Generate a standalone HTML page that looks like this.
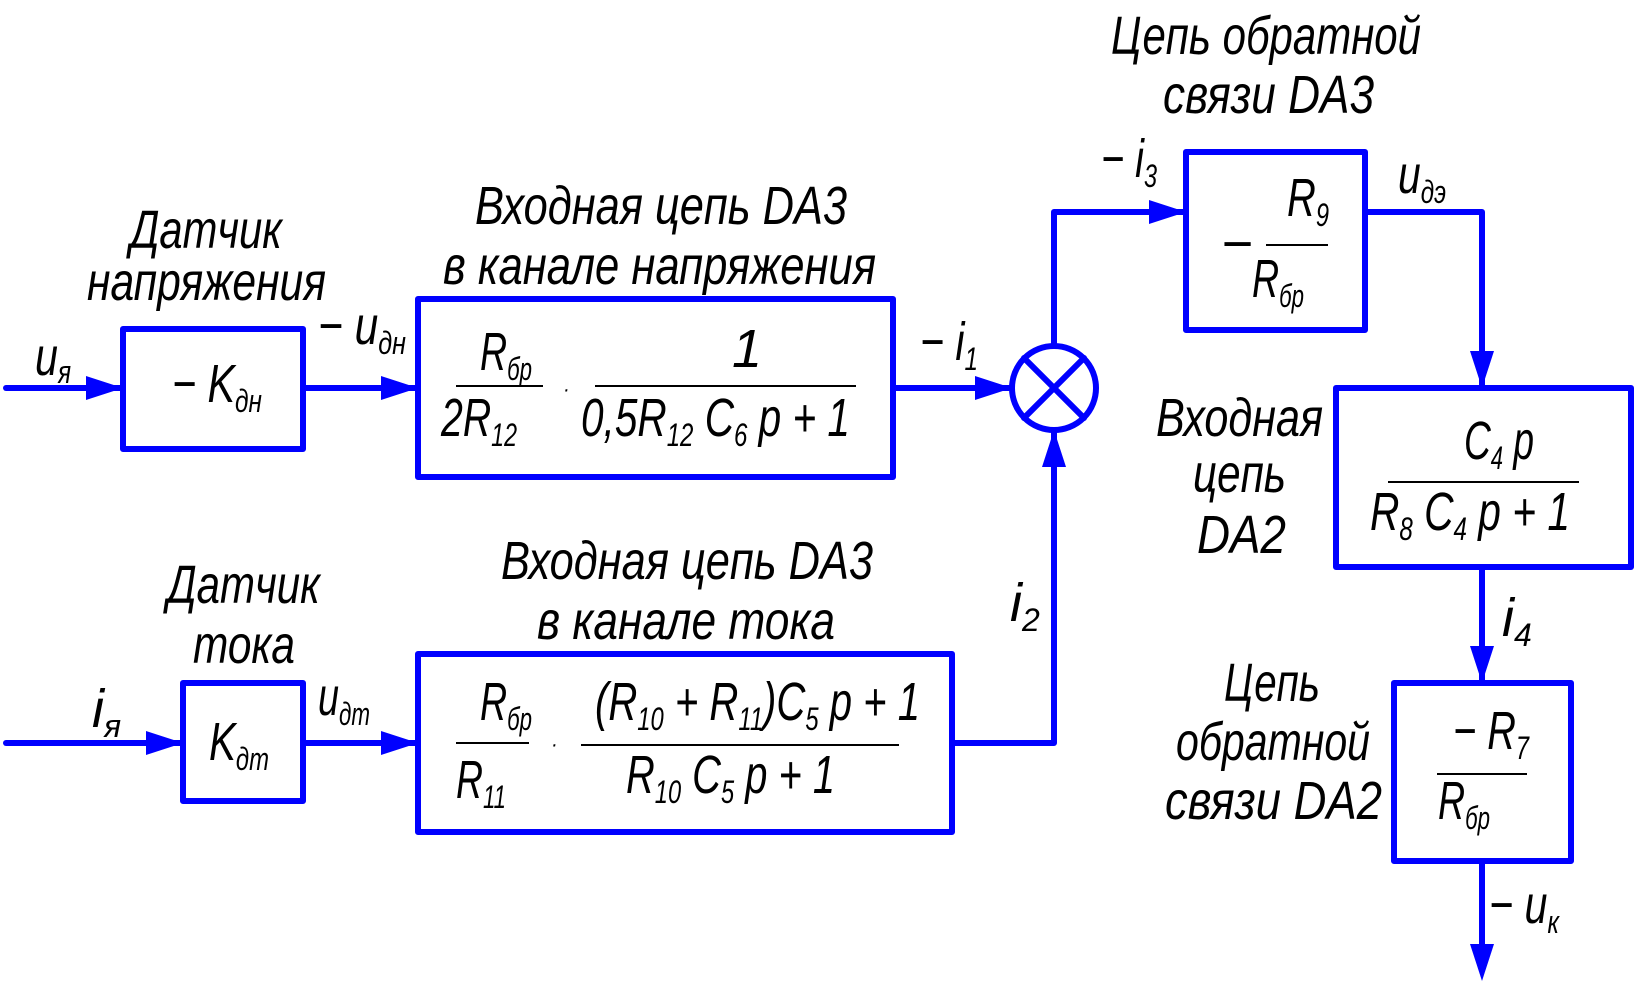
<!DOCTYPE html>
<html><head><meta charset="utf-8"><style>
html,body{margin:0;padding:0;background:#fff;}
svg{display:block;}
text{font-family:"Liberation Sans Narrow","Liberation Sans",sans-serif;font-style:italic;fill:#000;}
</style></head><body>
<svg width="1636" height="985" viewBox="0 0 1636 985" xmlns="http://www.w3.org/2000/svg">
<g stroke="#0000ff" stroke-width="6" fill="none" stroke-linejoin="round" stroke-linecap="round">
<rect x="123" y="329" width="180" height="120"/>
<rect x="418" y="299" width="475" height="178"/>
<rect x="1186" y="152" width="179" height="178"/>
<rect x="1336" y="388" width="295" height="179"/>
<rect x="1394" y="683" width="177" height="178"/>
<rect x="183" y="683" width="120" height="118"/>
<rect x="418" y="654" width="534" height="178"/>
<circle cx="1054" cy="388" r="42"/>
<line x1="1024" y1="358" x2="1084" y2="418"/>
<line x1="1084" y1="358" x2="1024" y2="418"/>
<line x1="6" y1="388" x2="123" y2="388"/>
<line x1="303" y1="388" x2="418" y2="388"/>
<line x1="893" y1="388" x2="1012" y2="388"/>
<polyline points="1054,346 1054,212 1186,212"/>
<polyline points="1365,212 1482,212 1482,388"/>
<line x1="1482" y1="567" x2="1482" y2="683"/>
<line x1="1482" y1="861" x2="1482" y2="960"/>
<line x1="6" y1="743" x2="183" y2="743"/>
<line x1="303" y1="743" x2="418" y2="743"/>
<polyline points="952,743 1054,743 1054,430"/>
</g>
<g fill="#0000ff">
<polygon points="86,376 123,388 86,400"/>
<polygon points="381,376 418,388 381,400"/>
<polygon points="975,376 1012,388 975,400"/>
<polygon points="1149,200 1186,212 1149,224"/>
<polygon points="1470,351 1482,388 1494,351"/>
<polygon points="1470,646 1482,683 1494,646"/>
<polygon points="1470,944 1482,981 1494,944"/>
<polygon points="146,731 183,743 146,755"/>
<polygon points="381,731 418,743 381,755"/>
<polygon points="1042,467 1054,430 1066,467"/>
</g>
<g stroke="#000" stroke-width="2">
<line x1="456" y1="386" x2="543" y2="386"/>
<line x1="595" y1="386" x2="856" y2="386"/>
<line x1="1266" y1="245" x2="1328" y2="245"/>
<line x1="1388" y1="482" x2="1579" y2="482"/>
<line x1="1437" y1="774" x2="1527" y2="774"/>
<line x1="456" y1="743" x2="529" y2="743"/>
<line x1="581" y1="745" x2="899" y2="745"/>
</g>
<g font-size="54">
<text x="130" y="248" textLength="152" lengthAdjust="spacingAndGlyphs">Датчик</text>
<text x="87" y="300" textLength="239" lengthAdjust="spacingAndGlyphs">напряжения</text>
<text x="475" y="224" textLength="372" lengthAdjust="spacingAndGlyphs">Входная цепь DA3</text>
<text x="443" y="284" textLength="433" lengthAdjust="spacingAndGlyphs">в канале напряжения</text>
<text x="1111" y="54" textLength="310" lengthAdjust="spacingAndGlyphs">Цепь обратной</text>
<text x="1163" y="113" textLength="211" lengthAdjust="spacingAndGlyphs">связи DA3</text>
<text x="1156" y="436" textLength="167" lengthAdjust="spacingAndGlyphs">Входная</text>
<text x="1193" y="492" textLength="93" lengthAdjust="spacingAndGlyphs">цепь</text>
<text x="1197" y="553" textLength="89" lengthAdjust="spacingAndGlyphs">DA2</text>
<text x="1224" y="701" textLength="96" lengthAdjust="spacingAndGlyphs">Цепь</text>
<text x="1176" y="760" textLength="194" lengthAdjust="spacingAndGlyphs">обратной</text>
<text x="1165" y="819" textLength="217" lengthAdjust="spacingAndGlyphs">связи DA2</text>
<text x="167" y="603" textLength="153" lengthAdjust="spacingAndGlyphs">Датчик</text>
<text x="193" y="663" textLength="102" lengthAdjust="spacingAndGlyphs">тока</text>
<text x="501" y="579" textLength="372" lengthAdjust="spacingAndGlyphs">Входная цепь DA3</text>
<text x="537" y="639" textLength="298" lengthAdjust="spacingAndGlyphs">в канале тока</text>

<text x="35" y="375" textLength="36" lengthAdjust="spacingAndGlyphs">u<tspan font-size="32" dy="8">я</tspan></text>
<text x="172" y="402" textLength="90" lengthAdjust="spacingAndGlyphs">− K<tspan font-size="32" dy="10">дн</tspan></text>
<text x="318" y="344" textLength="88" lengthAdjust="spacingAndGlyphs">− u<tspan font-size="32" dy="10">дн</tspan></text>
<text x="480" y="370" textLength="52" lengthAdjust="spacingAndGlyphs">R<tspan font-size="32" dy="10">бр</tspan></text>
<text x="441" y="436" textLength="76" lengthAdjust="spacingAndGlyphs">2R<tspan font-size="32" dy="10">12</tspan></text>
<text x="563" y="396" font-size="20">·</text>
<text x="732" y="367">1</text>
<text x="581" y="436" textLength="269" lengthAdjust="spacingAndGlyphs">0,5R<tspan font-size="32" dy="10">12</tspan><tspan dy="-10"> C</tspan><tspan font-size="32" dy="10">6</tspan><tspan dy="-10"> p + 1</tspan></text>
<text x="920" y="360" textLength="58" lengthAdjust="spacingAndGlyphs">− i<tspan font-size="32" dy="10">1</tspan></text>
<text x="1101" y="177" textLength="56" lengthAdjust="spacingAndGlyphs">− i<tspan font-size="32" dy="10">3</tspan></text>
<text x="1287" y="216" textLength="42" lengthAdjust="spacingAndGlyphs">R<tspan font-size="32" dy="10">9</tspan></text>
<text x="1221" y="262">−</text>
<text x="1252" y="297" textLength="52" lengthAdjust="spacingAndGlyphs">R<tspan font-size="32" dy="10">бр</tspan></text>
<text x="1398" y="193" textLength="48" lengthAdjust="spacingAndGlyphs">u<tspan font-size="32" dy="10">дэ</tspan></text>
<text x="1464" y="459" textLength="70" lengthAdjust="spacingAndGlyphs">C<tspan font-size="32" dy="10">4</tspan><tspan dy="-10"> p</tspan></text>
<text x="1370" y="530" textLength="200" lengthAdjust="spacingAndGlyphs">R<tspan font-size="32" dy="10">8</tspan><tspan dy="-10"> C</tspan><tspan font-size="32" dy="10">4</tspan><tspan dy="-10"> p + 1</tspan></text>
<text x="1502" y="636">i<tspan font-size="32" dy="10">4</tspan></text>
<text x="1453" y="749" textLength="76" lengthAdjust="spacingAndGlyphs">− R<tspan font-size="32" dy="10">7</tspan></text>
<text x="1438" y="819" textLength="52" lengthAdjust="spacingAndGlyphs">R<tspan font-size="32" dy="10">бр</tspan></text>
<text x="1489" y="923" textLength="70" lengthAdjust="spacingAndGlyphs">− u<tspan font-size="32" dy="10">к</tspan></text>
<text x="1010" y="621">i<tspan font-size="32" dy="10">2</tspan></text>
<text x="92" y="727">i<tspan font-size="32" dy="10">я</tspan></text>
<text x="209" y="760" textLength="60" lengthAdjust="spacingAndGlyphs">K<tspan font-size="32" dy="10">дт</tspan></text>
<text x="318" y="715" textLength="52" lengthAdjust="spacingAndGlyphs">u<tspan font-size="32" dy="10">дт</tspan></text>
<text x="480" y="720" textLength="52" lengthAdjust="spacingAndGlyphs">R<tspan font-size="32" dy="10">бр</tspan></text>
<text x="456" y="798" textLength="50" lengthAdjust="spacingAndGlyphs">R<tspan font-size="32" dy="10">11</tspan></text>
<text x="551" y="751" font-size="20">·</text>
<text x="595" y="720" textLength="325" lengthAdjust="spacingAndGlyphs">(R<tspan font-size="32" dy="10">10</tspan><tspan dy="-10"> + R</tspan><tspan font-size="32" dy="10">11</tspan><tspan dy="-10">)C</tspan><tspan font-size="32" dy="10">5</tspan><tspan dy="-10"> p + 1</tspan></text>
<text x="626" y="793" textLength="209" lengthAdjust="spacingAndGlyphs">R<tspan font-size="32" dy="10">10</tspan><tspan dy="-10"> C</tspan><tspan font-size="32" dy="10">5</tspan><tspan dy="-10"> p + 1</tspan></text>
</g>
</svg>
</body></html>
